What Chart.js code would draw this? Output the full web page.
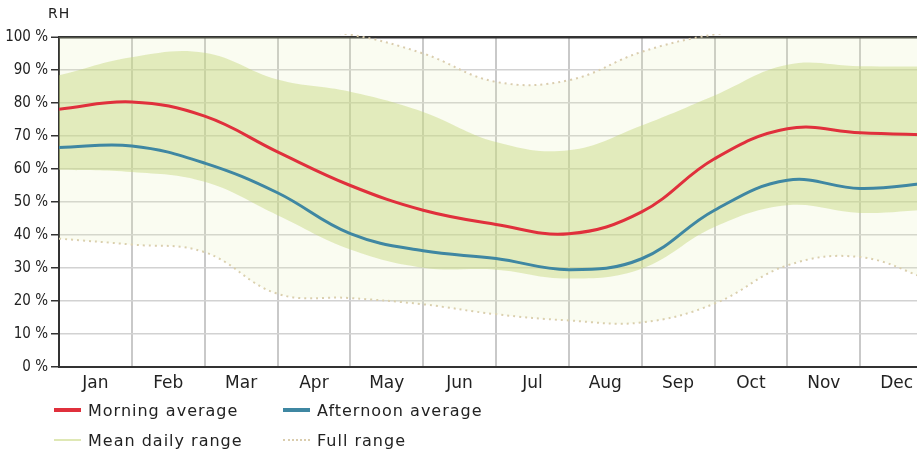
<!DOCTYPE html>
<html>
<head>
<meta charset="utf-8">
<script src="https://cdn.jsdelivr.net/npm/chart.js@4.4.0/dist/chart.umd.min.js"></script>
<style>
    html, body { margin: 0; padding: 0; overflow: hidden; background: #fff; }
    #wrap { position: relative; width: 935px; height: 459px; }
    #rh { position: absolute; left: 48px; top: 5px; font: 14px "DejaVu Sans", sans-serif; letter-spacing: 1px; color: #222; }
    #legend { position: absolute; left: 54px; top: 398px; display: grid; grid-template-columns: 229px 300px; grid-auto-rows: 30px;
              font: 16px "DejaVu Sans", sans-serif; letter-spacing: 1px; color: #222; }
    #legend .item { display: flex; align-items: center; height: 24px; }
    #legend .sw { width: 27px; margin-right: 7px; }
</style>
</head>
<body>
<div id="wrap">
    <canvas id="my_chart"></canvas>
    <div id="rh">RH</div>
    <div id="legend"></div>
</div>
<script>
(function () {
    "use strict";

    var months = ["Jan", "Feb", "Mar", "Apr", "May", "Jun", "Jul", "Aug", "Sep", "Oct", "Nov", "Dec"];
    // values sit on the month boundaries; the last one is the right edge
    var xPos = [0, 1, 2, 3, 4, 5, 6, 7, 8, 9, 10, 11, 12];

    var morning = [78.1, 80.3, 76.0, 65.2, 55.0, 47.5, 43.2, 40.4, 47.0, 63.1, 72.2, 71.0, 70.3];
    var afternoon = [66.5, 67.0, 61.8, 52.8, 40.4, 35.2, 32.9, 29.5, 32.8, 47.5, 56.6, 54.1, 55.8];
    var meanHigh = [88.4, 93.9, 95.2, 87.1, 83.4, 77.3, 68.2, 65.7, 73.2, 82.3, 91.6, 91.1, 91.0];
    var meanLow = [59.8, 59.1, 56.1, 46.0, 35.6, 30.1, 29.5, 26.8, 29.8, 42.4, 49.0, 46.7, 47.8];
    var fullHigh = [105, 108, 105, 102.5, 100.7, 95.0, 86.4, 86.9, 95.5, 100.8, 103, 106, 106];
    var fullLow = [38.9, 37.1, 34.8, 22.2, 20.9, 19.0, 16.0, 14.1, 13.5, 19.2, 30.8, 33.3, 26.0];

    var yTicks = [0, 10, 20, 30, 40, 50, 60, 70, 80, 90, 100];

    function pts(vals) {
        return vals.map(function (v, i) { return { x: xPos[i], y: v }; });
    }

    var red = "#e0303c";
    var blue = "#3f87a2";
    var dotted = "#dacdae";

    var data = {
        datasets: [
            { label: "Morning average", data: pts(morning), borderColor: red, borderWidth: 3, fill: false,
              legendSwatch: "height:4px;background:" + red },
            { label: "Afternoon average", data: pts(afternoon), borderColor: blue, borderWidth: 3, fill: false,
              legendSwatch: "height:4px;background:" + blue },
            { label: "Mean daily range", data: pts(meanHigh), borderColor: "rgba(0,0,0,0)", borderWidth: 0,
              fill: "+1", backgroundColor: "rgba(198,216,125,0.45)",
              legendSwatch: "height:2px;background:#dfe8b5" },
            { label: "", data: pts(meanLow), borderColor: "rgba(0,0,0,0)", borderWidth: 0, fill: false },
            { label: "Full range", data: pts(fullHigh), borderColor: dotted, borderWidth: 2, borderDash: [2, 4],
              fill: "+1", backgroundColor: "rgba(230,240,180,0.18)", clip: { left: 0, top: 3, right: 0, bottom: 0 },
              legendSwatch: "height:0;border-top:2px dotted " + dotted },
            { label: "", data: pts(fullLow), borderColor: dotted, borderWidth: 2, borderDash: [2, 4], fill: false },
        ],
    };

    var options = {
        responsive: true,
        maintainAspectRatio: false,
        animation: false,
        layout: { padding: { top: 37, right: 2, bottom: 62, left: 0 } },
        elements: {
            point: { radius: 0, hoverRadius: 0 },
            line: { tension: 0.4 },
        },
        plugins: {
            legend: { display: false },
            tooltip: { enabled: false },
        },
        scales: {
            x: {
                type: "linear",
                min: 0,
                max: 12,
                afterBuildTicks: function (scale) {
                    scale.ticks = months.map(function (m, i) { return { value: i + 0.5 }; });
                },
                afterFit: function (scale) { scale.height = 30; },
                ticks: {
                    autoSkip: false,
                    maxRotation: 0,
                    padding: 6,
                    color: "#222",
                    font: { family: "DejaVu Sans", size: 17 },
                    callback: function (v) { return months[Math.floor(v)]; },
                },
                grid: { offset: true, drawTicks: false, color: "#c9c9c9", lineWidth: 2 },
                border: { color: "#333", width: 2 },
            },
            y: {
                min: 0,
                max: 100,
                afterBuildTicks: function (scale) {
                    scale.ticks = yTicks.map(function (v) { return { value: v }; });
                },
                afterFit: function (scale) { scale.width = 59; },
                ticks: {
                    padding: 3,
                    color: "#222",
                    font: { family: "'Liberation Sans Narrow', 'DejaVu Sans Condensed', sans-serif", size: 15 },
                    callback: function (v) { return v + " %"; },
                },
                grid: {
                    color: function (c) { return c.tick && c.tick.value === 100 ? "#333" : "#d2d2d2"; },
                    lineWidth: function (c) { return c.tick && c.tick.value === 100 ? 2.5 : 1.5; },
                    tickColor: "#333",
                    tickLength: 8,
                    tickWidth: 1.5,
                },
                border: { color: "#333", width: 2 },
            },
        },
    };

    var ctx = document.getElementById("my_chart").getContext("2d");
    var myChart = new Chart(ctx, { type: "line", data: data, options: options });

    var legend = document.getElementById("legend");
    myChart.data.datasets.forEach(function (ds) {
        if (!ds.label) return;
        var item = document.createElement("div");
        item.className = "item";
        var sw = document.createElement("span");
        sw.className = "sw";
        sw.style.cssText = ds.legendSwatch;
        var txt = document.createElement("span");
        txt.textContent = ds.label;
        item.appendChild(sw);
        item.appendChild(txt);
        legend.appendChild(item);
    });
})();
</script>
</body>
</html>
